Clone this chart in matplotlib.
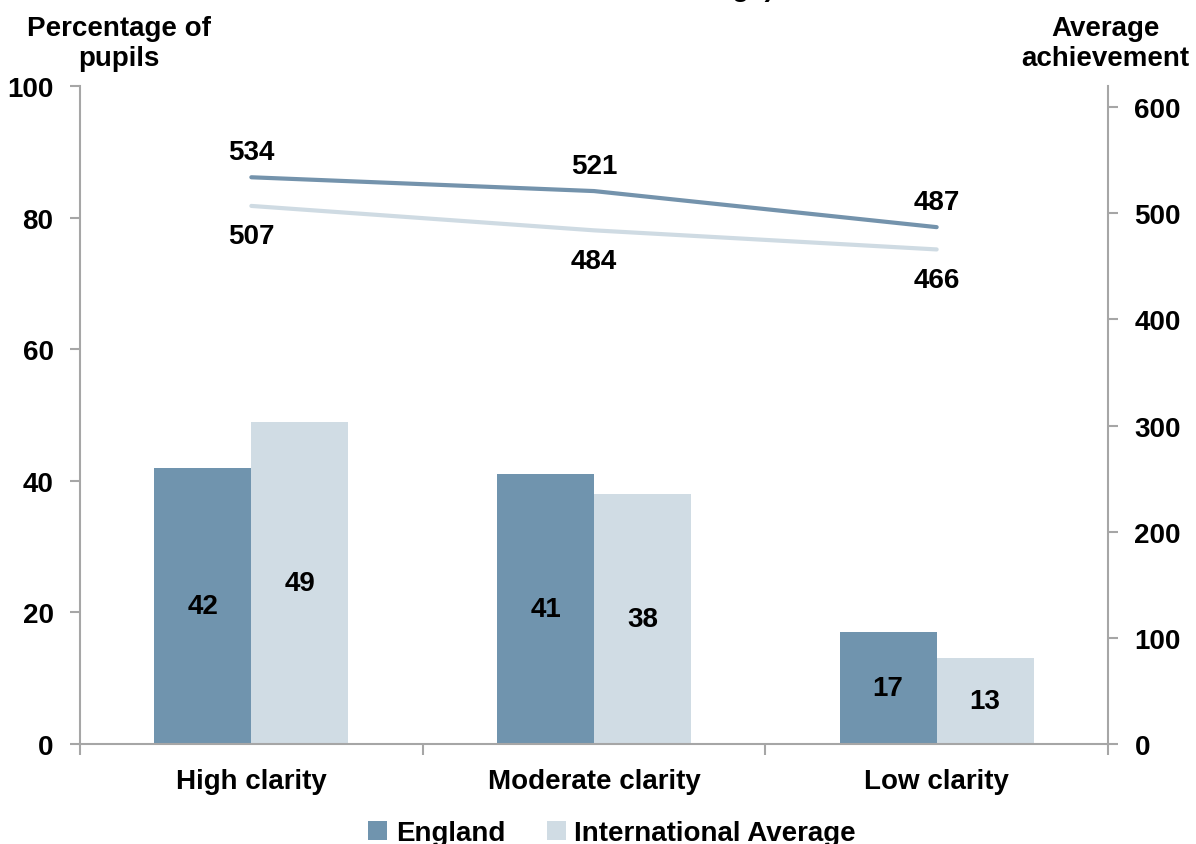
import matplotlib.pyplot as plt
import numpy as np

plt.rcParams['font.family'] = ['Liberation Sans', 'DejaVu Sans']
plt.rcParams['font.weight'] = 'bold'

categories = ['High clarity', 'Moderate clarity', 'Low clarity']
england_pct = [42, 41, 17]
intl_pct = [49, 38, 13]
england_ach = [534, 521, 487]
intl_ach = [507, 484, 466]

c_eng = '#7094ae'
c_int = '#d0dce4'
c_eng_line = '#7493ac'
c_int_line = '#cfdbe3'
axis_grey = '#a6a6a6'

fig = plt.figure(figsize=(11.96, 8.45), dpi=100)
ax = fig.add_axes([80 / 1196, 1 - 745 / 845, (1108 - 80) / 1196, (745 - 87) / 845])
ax2 = ax.twinx()

x = np.arange(len(categories))
w = 0.283
b1 = ax.bar(x - w / 2, england_pct, w, color=c_eng, label='England', zorder=2)
b2 = ax.bar(x + w / 2, intl_pct, w, color=c_int, label='International Average', zorder=2)

for bars, vals in [(b1, england_pct), (b2, intl_pct)]:
    for r, v in zip(bars, vals):
        ax.text(r.get_x() + r.get_width() / 2, v / 2, str(v), ha='center', va='center',
                fontsize=20, fontweight='bold', color='black', zorder=3)

ax2.plot(x, england_ach, color=c_eng_line, lw=3, solid_capstyle='round', zorder=3)
ax2.plot(x, intl_ach, color=c_int_line, lw=3, solid_capstyle='round', zorder=3)
for xi, v in zip(x, england_ach):
    ax2.annotate(str(v), (xi, v), xytext=(0, 18), textcoords='offset points',
                 ha='center', va='center', fontsize=20, fontweight='bold')
for xi, v in zip(x, intl_ach):
    ax2.annotate(str(v), (xi, v), xytext=(0, -22), textcoords='offset points',
                 ha='center', va='center', fontsize=20, fontweight='bold')

ax.set_xlim(-0.5, 2.5)
ax.set_ylim(0, 100)
ax2.set_ylim(0, 620)
ax.set_yticks([0, 20, 40, 60, 80, 100])
ax2.set_yticks([0, 100, 200, 300, 400, 500, 600])

ax.set_xticks(x)
ax.set_xticklabels(categories, fontsize=20, fontweight='bold')
ax.set_xticks([-0.5, 0.5, 1.5, 2.5], minor=True)
ax.tick_params(axis='x', which='major', length=0, pad=17)
ax.tick_params(axis='x', which='minor', length=8, color=axis_grey, width=1.5)
ax.tick_params(axis='y', labelsize=20, length=7, color=axis_grey, width=1.5, pad=12)
ax2.tick_params(axis='y', labelsize=20, length=7, color=axis_grey, width=1.5, pad=12)
for a in (ax, ax2):
    for s in a.spines.values():
        s.set_color(axis_grey)
        s.set_linewidth(1.5)
    a.spines['top'].set_visible(False)
ax.spines['right'].set_visible(False)
ax2.spines['left'].set_visible(False)
ax2.spines['bottom'].set_visible(False)

fig.text(119 / 1196, 1 - 44 / 845, 'Percentage of\npupils', ha='center', va='center',
         fontsize=20, fontweight='bold', linespacing=1.15)
fig.text(1105 / 1196, 1 - 44 / 845, 'Average\nachievement', ha='center', va='center',
         fontsize=20, fontweight='bold', linespacing=1.15)
# title runs off the top edge in the reference, only its last line's bottom shows
fig.text(628 / 1196, 1 + 4 / 845, 'Clarity of instruction (England and\nInternational Average)',
         ha='center', va='baseline', fontsize=20, fontweight='bold')

fig.legend(handles=[b1, b2], loc='center', bbox_to_anchor=(612 / 1196, 1 - 834 / 845),
           ncol=2, frameon=False, fontsize=20, handlelength=0.7, handleheight=0.7,
           handletextpad=0.3, columnspacing=1.5, prop={'weight': 'bold', 'size': 20})

fig.savefig('out.png', dpi=100)
